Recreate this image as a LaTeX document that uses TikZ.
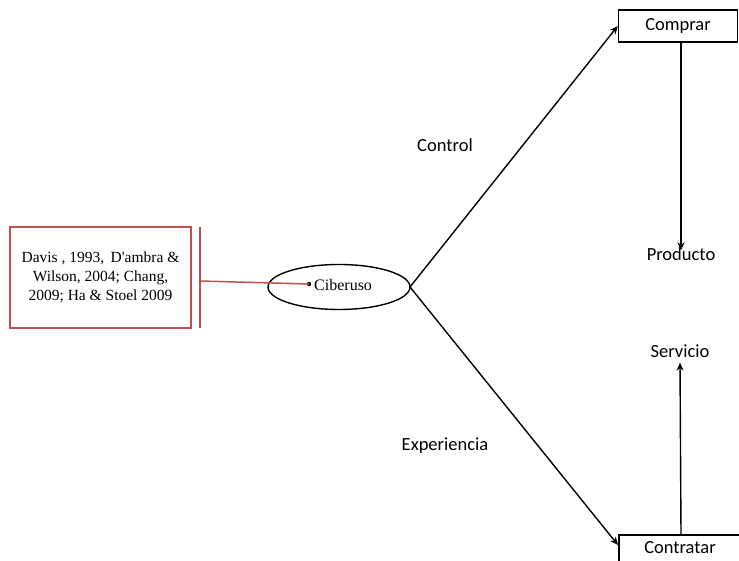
\documentclass[tikz,border=0pt]{standalone}
\usepackage{fontspec}
\setmainfont{Carlito}
\newfontfamily\timesf{Liberation Serif}
\usetikzlibrary{arrows.meta,shapes.geometric}
\definecolor{boxred}{RGB}{192,80,77}
\tikzset{
  lbl/.style={font=\fontsize{18.5}{22}\selectfont, inner sep=0pt},
  tbox/.style={draw=black, line width=1.5pt, minimum width=119pt, minimum height=32pt, inner sep=0pt, font=\fontsize{18.5}{22}\selectfont},
  conn/.style={draw=black, line width=1.4pt, -{Stealth[length=8pt,width=7pt]}},
}
\begin{document}
\begin{tikzpicture}[x=1pt,y=-1pt]
\useasboundingbox (0,0) rectangle (739,561);
% left citation box
\node[draw=boxred, line width=1.5pt, minimum width=181pt, minimum height=101pt, inner sep=0pt, align=center,
  font=\timesf\fontsize{15.5}{19}\selectfont] (cite) at (100.5,277.5)
  {Davis , 1993,\, D'ambra \&\\Wilson, 2004; Chang,\\2009; Ha \& Stoel 2009};
\coordinate (bt) at (200,227);
\coordinate (bb) at (200,328);
\draw[boxred, line width=1.5pt] (bt) -- (bb);
\coordinate (bm) at (200,281);
% ellipse
\node[draw=black, line width=1.4pt, ellipse, minimum width=142pt, minimum height=45pt, inner sep=0pt] (ell) at (339,287) {};
\fill (309,284) circle (2.2pt) coordinate (dot);
\node[font=\timesf\fontsize{16}{18}\selectfont, inner sep=0pt, anchor=west] (cib) at (314,285) {Ciberuso};
\draw[boxred, line width=1.5pt] (bm) -- (dot);
% boxes
\node[tbox] (comprar) at (678,26) {Comprar};
\node[tbox, minimum width=125pt, anchor=north west] (contratar) at (618,534) {};
\node[font=\fontsize{18.5}{22}\selectfont, inner sep=0pt] (ctext) at (680,548) {Contratar};
\coordinate (ellr) at (410,287);
\draw[conn] (ellr) -- (comprar.west);
\coordinate (cw) at (618,545);
\draw[conn] (ellr) -- (cw);
% labels
\node[lbl] (control) at (445,145) {Control};
\node[lbl] (exp) at (445,446) {Experiencia};
\node[lbl] (prod) at (681,254) {Producto};
\node[lbl] (serv) at (680,351) {Servicio};
\coordinate (ct) at (681,534);
\draw[conn] (comprar.south -| prod) -- ([yshift=-3pt]prod.north);
\draw[conn] (ct) -- ([yshift=-5pt]serv.south);
\end{tikzpicture}
\end{document}
